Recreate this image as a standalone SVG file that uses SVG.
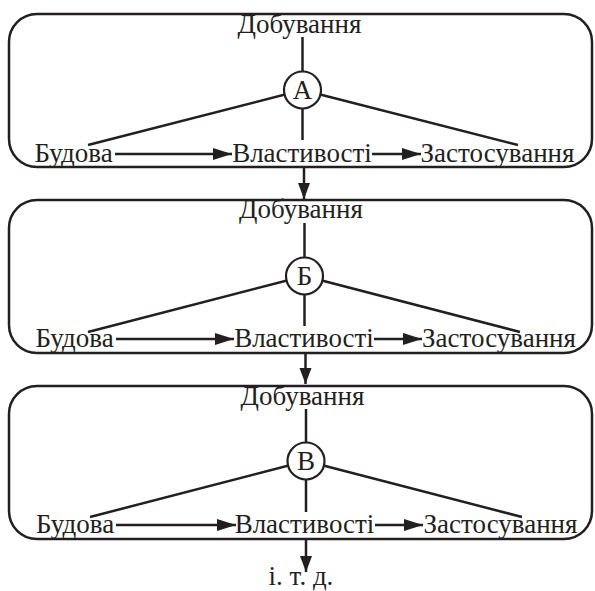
<svg xmlns="http://www.w3.org/2000/svg" width="595" height="591" viewBox="0 0 595 591">
<defs>
<style>
.box{fill:none;stroke:#231f20;stroke-width:2.5}
.ln{fill:none;stroke:#231f20;stroke-width:2.5}
.c{fill:#fff;stroke:#231f20;stroke-width:2.2}
.t{font-size:27px;fill:#231f20}
.m{text-anchor:middle}
.ah{fill:#231f20}
</style>
<marker id="arr" markerUnits="userSpaceOnUse" markerWidth="20" markerHeight="14" refX="19" refY="6" orient="auto" viewBox="0 0 20 12">
<path d="M0,0 L19,6 L0,12 Z" class="ah"/>
</marker>
<marker id="arrv" markerUnits="userSpaceOnUse" markerWidth="17" markerHeight="13" refX="16" refY="6" orient="auto" viewBox="0 0 17 12">
<path d="M0,0 L16,6 L0,12 Z" class="ah"/>
</marker>
</defs>
<g id="connectors">
<line class="ln" x1="304" y1="167" x2="304" y2="199" marker-end="url(#arrv)"/>
<line class="ln" x1="305.5" y1="353" x2="305.5" y2="384" marker-end="url(#arrv)"/>
<line class="ln" x1="306" y1="539" x2="306" y2="572" marker-end="url(#arrv)"/>
</g>
<g id="box1">
<rect class="box" x="9" y="14" width="583" height="153" rx="28"/>
<text class="t m" font-family="Liberation Serif" x="299.5" y="33">Добування</text>
<line class="ln" x1="302.5" y1="37" x2="302.5" y2="140"/>
<line class="ln" x1="302.5" y1="90" x2="88" y2="145"/>
<line class="ln" x1="302.5" y1="90" x2="518" y2="145"/>
<circle class="c" cx="302.5" cy="90" r="18.5"/>
<text class="t m" font-family="Liberation Serif" x="302.5" y="99">А</text>
<text class="t m" font-family="Liberation Serif" x="73.5" y="162">Будова</text>
<line class="ln" x1="115" y1="154" x2="232" y2="154" marker-end="url(#arr)"/>
<text class="t m" font-family="Liberation Serif" x="302" y="162">Властивості</text>
<line class="ln" x1="372" y1="154" x2="421" y2="154" marker-end="url(#arr)"/>
<text class="t m" font-family="Liberation Serif" x="497.5" y="162">Застосування</text>
</g>
<g id="box2">
<rect class="box" x="9" y="200" width="583" height="153" rx="28"/>
<text class="t m" font-family="Liberation Serif" x="301" y="218">Добування</text>
<line class="ln" x1="304.5" y1="223" x2="304.5" y2="326"/>
<line class="ln" x1="304.5" y1="276" x2="88" y2="332"/>
<line class="ln" x1="304.5" y1="276" x2="520" y2="332"/>
<circle class="c" cx="304.5" cy="276" r="18.5"/>
<text class="t m" font-family="Liberation Serif" x="304.5" y="285">Б</text>
<text class="t m" font-family="Liberation Serif" x="74.5" y="347">Будова</text>
<line class="ln" x1="116" y1="339" x2="234" y2="339" marker-end="url(#arr)"/>
<text class="t m" font-family="Liberation Serif" x="304" y="347">Властивості</text>
<line class="ln" x1="374" y1="339" x2="422" y2="339" marker-end="url(#arr)"/>
<text class="t m" font-family="Liberation Serif" x="499" y="347">Застосування</text>
</g>
<g id="box3">
<rect class="box" x="9" y="386" width="583" height="153" rx="28"/>
<text class="t m" font-family="Liberation Serif" x="302.5" y="405">Добування</text>
<line class="ln" x1="306" y1="409" x2="306" y2="512"/>
<line class="ln" x1="306" y1="461" x2="90" y2="517"/>
<line class="ln" x1="306" y1="461" x2="522" y2="517"/>
<circle class="c" cx="306" cy="461" r="18.5"/>
<text class="t m" font-family="Liberation Serif" x="306" y="470">В</text>
<text class="t m" font-family="Liberation Serif" x="75" y="533">Будова</text>
<line class="ln" x1="116" y1="525" x2="236" y2="525" marker-end="url(#arr)"/>
<text class="t m" font-family="Liberation Serif" x="304.5" y="533">Властивості</text>
<line class="ln" x1="375" y1="525" x2="423" y2="525" marker-end="url(#arr)"/>
<text class="t m" font-family="Liberation Serif" x="500.5" y="533">Застосування</text>
</g>
<g id="etc">
<text class="t m" font-family="Liberation Serif" x="301" y="585">і. т. д.</text>
</g>
</svg>
